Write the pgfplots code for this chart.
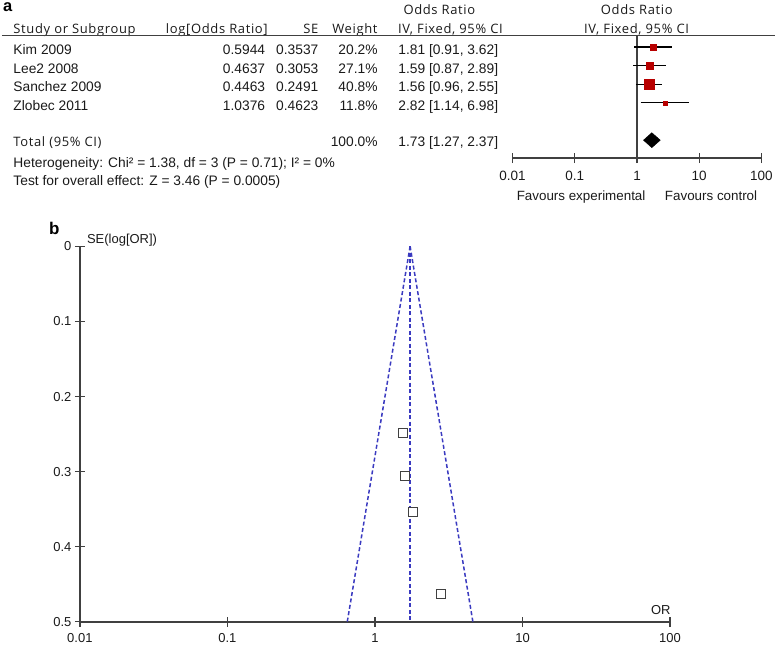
\documentclass[border=0pt]{standalone}
\usepackage{fontspec}
\setmainfont{Liberation Sans}
\newfontfamily\hdr[LetterSpace=5]{Open Sans}
\usepackage{pgfplots}
\pgfplotsset{compat=1.18}
\definecolor{txt}{HTML}{1A1A1A}
\definecolor{sqred}{HTML}{B80000}
\definecolor{fblue}{HTML}{3A3AC0}
\definecolor{axgray}{HTML}{404040}
\begin{document}
\begin{tikzpicture}[x=1pt,y=1pt,
  dat/.style={inner sep=0pt, text=txt, font=\fontsize{13.8}{15}\selectfont},
  hd/.style={inner sep=0pt, text=txt, font=\fontsize{13}{15}\hdr}]
\path (0,0) rectangle (776,645);
% ---------- panel a: table ----------
\node[anchor=base west, inner sep=0pt, font=\fontsize{16.5}{18}\selectfont\bfseries] at (3,645-12) {a};
\node[hd, anchor=base west] at (13.3,645-33.7) {Study or Subgroup};
\node[hd, anchor=base east] at (268.3,645-33.7) {log[Odds Ratio]};
\node[hd, anchor=base east] at (319,645-33.7) {SE};
\node[hd, anchor=base east] at (378.3,645-33.7) {Weight};
\node[hd, anchor=base] at (440,645-14.5) {Odds Ratio};
\node[hd, anchor=base] at (451,645-33.7) {IV, Fixed, 95\% CI};
\node[hd, anchor=base] at (637.7,645-14.5) {Odds Ratio};
\node[hd, anchor=base] at (637.5,645-33.7) {IV, Fixed, 95\% CI};
\draw[axgray, line width=1.3pt] (2,645-35.3) -- (776,645-35.3);
% rows
\node[dat, anchor=base west] at (13.3,645-54.3) {Kim 2009};
\node[dat, anchor=base east] at (265.7,645-54.3) {0.5944};
\node[dat, anchor=base east] at (319,645-54.3) {0.3537};
\node[dat, anchor=base east] at (378.3,645-54.3) {20.2\%};
\node[dat, anchor=base east] at (499,645-54.3) {1.81 [0.91, 3.62]};
\node[dat, anchor=base west] at (13.3,645-73.3) {Lee2 2008};
\node[dat, anchor=base east] at (265.7,645-73.3) {0.4637};
\node[dat, anchor=base east] at (319,645-73.3) {0.3053};
\node[dat, anchor=base east] at (378.3,645-73.3) {27.1\%};
\node[dat, anchor=base east] at (499,645-73.3) {1.59 [0.87, 2.89]};
\node[dat, anchor=base west] at (13.3,645-92) {Sanchez 2009};
\node[dat, anchor=base east] at (265.7,645-92) {0.4463};
\node[dat, anchor=base east] at (319,645-92) {0.2491};
\node[dat, anchor=base east] at (378.3,645-92) {40.8\%};
\node[dat, anchor=base east] at (499,645-92) {1.56 [0.96, 2.55]};
\node[dat, anchor=base west] at (13.3,645-111) {Zlobec 2011};
\node[dat, anchor=base east] at (265.7,645-111) {1.0376};
\node[dat, anchor=base east] at (319,645-111) {0.4623};
\node[dat, anchor=base east] at (378.3,645-111) {11.8\%};
\node[dat, anchor=base east] at (499,645-111) {2.82 [1.14, 6.98]};
\node[hd, anchor=base west] at (13.3,645-146.7) {Total (95\% CI)};
\node[dat, anchor=base east] at (378.3,645-146.7) {100.0\%};
\node[dat, anchor=base east] at (499,645-146.7) {1.73 [1.27, 2.37]};
\node[dat, anchor=base west] at (13.3,645-167.7) {Heterogeneity: Chi² = 1.38, df = 3 (P = 0.71); I² = 0\%};
\node[dat, anchor=base west] at (13.3,645-186) {Test for overall effect: Z = 3.46 (P = 0.0005)};
% ---------- panel a: forest plot ----------
\begin{axis}[at={(513.3pt,486.7pt)}, anchor=south west, scale only axis,
  width=249.2pt, height=123pt, clip=false,
  xmode=log, xmin=0.01, xmax=100, y dir=reverse, ymin=0.37, ymax=6.96,
  axis x line=bottom, axis y line=none,
  axis line style={axgray, line width=1.3pt, -},
  xtick={0.01,0.1,1,10,100}, xticklabels={0.01,0.1,1,10,100},
  xminorticks=false, tick align=center, major tick length=10pt,
  tick style={axgray, line width=1.3pt},
  xticklabel style={font=\fontsize{13.5}{15}\selectfont, text=txt, yshift=-5pt}]
\addplot[axgray, line width=1.5pt] coordinates {(1,0.37) (1,6.96)};
\addplot[black, line width=1.2pt] coordinates {(0.91,1) (3.62,1)};
\addplot[black, line width=1.2pt] coordinates {(0.87,2) (2.89,2)};
\addplot[black, line width=1.2pt] coordinates {(0.96,3) (2.55,3)};
\addplot[black, line width=1.2pt] coordinates {(1.14,4) (6.98,4)};
\addplot[only marks, mark=square*, mark size=3pt, sqred] coordinates {(1.81,1)};
\addplot[only marks, mark=square*, mark size=3.65pt, sqred] coordinates {(1.59,2)};
\addplot[only marks, mark=square*, mark size=5pt, sqred] coordinates {(1.56,3)};
\addplot[only marks, mark=square*, mark size=2pt, sqred] coordinates {(2.82,4)};
\addplot[fill=black, draw=black] coordinates {(1.27,6) (1.73,5.6) (2.37,6) (1.73,6.4)} -- cycle;
\end{axis}
\node[dat, anchor=base west, font=\fontsize{13.4}{15}\selectfont] at (517.3,645-200.7) {Favours experimental};
\node[dat, anchor=base west, font=\fontsize{13.4}{15}\selectfont] at (665.7,645-200.7) {Favours control};
% ---------- panel b: funnel plot ----------
\node[anchor=base west, inner sep=0pt, font=\fontsize{17}{18}\selectfont\bfseries] at (49,645-235) {b};
\begin{axis}[at={(80pt,22.3pt)}, anchor=south west, scale only axis,
  width=591pt, height=376pt, clip=false,
  xmode=log, xmin=0.01, xmax=100, y dir=reverse, ymin=0, ymax=0.5,
  axis x line=bottom, axis y line=left,
  axis line style={axgray, line width=1.5pt, -},
  xtick={0.01,0.1,1,10,100}, xticklabels={0.01,0.1,1,10,100},
  ytick={0,0.1,0.2,0.3,0.4,0.5}, yticklabels={0,0.1,0.2,0.3,0.4,0.5},
  xminorticks=false, tick align=center, major tick length=10pt,
  tick style={axgray, line width=1.3pt},
  ticklabel style={font=\fontsize{13}{15}\selectfont, text=txt},
  xticklabel style={yshift=-3pt}]
\addplot[fblue, line width=1.5pt, dash pattern=on 4pt off 2.5pt] coordinates {(1.73,0) (0.649,0.5)};
\addplot[fblue, line width=1.5pt, dash pattern=on 4pt off 2.5pt] coordinates {(1.73,0) (4.61,0.5)};
\addplot[fblue, line width=1.5pt, dash pattern=on 4pt off 2.5pt] coordinates {(1.73,0) (1.73,0.5)};
\addplot[only marks, mark=square*, mark size=4.5pt, mark options={draw=axgray, fill=white, line width=1pt, solid}] coordinates {(1.81,0.3537) (1.59,0.3053) (1.56,0.2491) (2.82,0.4623)};
\end{axis}
\node[dat, anchor=base west, font=\fontsize{13}{15}\selectfont] at (87,645-244) {SE(log[OR])};
\node[dat, anchor=base, font=\fontsize{13}{15}\selectfont] at (661.7,645-615) {OR};
\end{tikzpicture}
\end{document}
